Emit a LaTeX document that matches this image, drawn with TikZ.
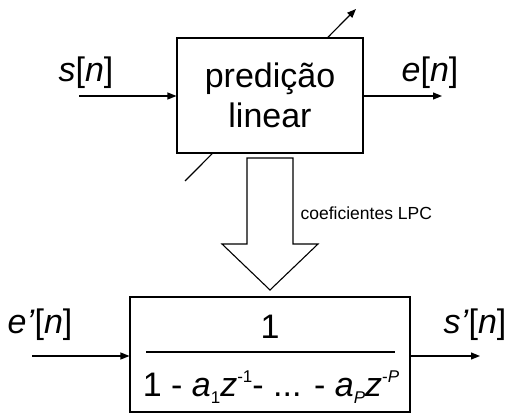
\documentclass[tikz,border=0pt]{standalone}
\usepackage{fontspec}
\setmainfont{Liberation Sans}
\usetikzlibrary{arrows.meta}
\newcommand\lowidx[1]{\raisebox{-0.35ex}{\fontsize{17}{17}\selectfont #1}}
\newcommand\highidx[1]{\raisebox{0.8ex}{\fontsize{17}{17}\selectfont #1}}
\begin{document}
\begin{tikzpicture}[x=1pt,y=-1pt,
  line width=1.2pt,
  blk/.style={draw, fill=white, line width=1.1pt, inner sep=0pt},
  sig/.style={-{Triangle[length=9pt,width=7pt]}},
  big/.style={font=\fontsize{34}{40}\selectfont, inner sep=0pt},
  small/.style={font=\fontsize{17.5}{20}\selectfont, inner sep=0pt}]
\useasboundingbox (0,0) rectangle (514,414);

% adjustable-predictor arrow, passing behind the block
\coordinate (d1) at (185,181);
\coordinate (d2) at (356,9);
\draw[sig] (d1) -- (d2);

% analysis block
\node[blk, minimum width=186pt, minimum height=115pt, align=center,
      font=\fontsize{34}{40}\selectfont] (pred) at (270,95.5)
      {predição\\linear};

\coordinate (sin) at (79,96);
\coordinate (eout) at (442,96);
\draw[sig] (sin) -- (sin -| pred.west);
\draw[sig] (eout -| pred.east) -- (eout);
\node[big] (slbl) at (86,73) {\textit{s}[\textit{n}]};
\node[big] (elbl) at (430,73) {\textit{e}[\textit{n}]};

% hollow arrow carrying the coefficients
\draw[line width=1.1pt] (247,158) -- (247,244) -- (222,244) -- (270,290)
  -- (318,244) -- (293,244) -- (293,158) -- cycle;
\node[small, anchor=west] (coef) at (300,213) {coeficientes LPC};

% synthesis filter block
\node[blk, minimum width=280pt, minimum height=115pt] (filt) at (270,354.5) {};
\node[big] (num) at (270,327) {1};
\draw[line width=1.1pt] (146,352) -- (395,352);
\node[big] (den) at (271,387)
  {1 - \textit{a}\lowidx{1}\textit{z}\highidx{-1}- ... - \textit{a}\lowidx{\textit{P}}\textit{z}\highidx{-\textit{P}}};

\coordinate (ein) at (32,356);
\coordinate (sout) at (480,356);
\draw[sig] (ein) -- (ein -| filt.west);
\draw[sig] (sout -| filt.east) -- (sout);
\node[big] (eplbl) at (40,325) {\textit{e’}[\textit{n}]};
\node[big] (splbl) at (475,325) {\textit{s’}[\textit{n}]};
\end{tikzpicture}
\end{document}
